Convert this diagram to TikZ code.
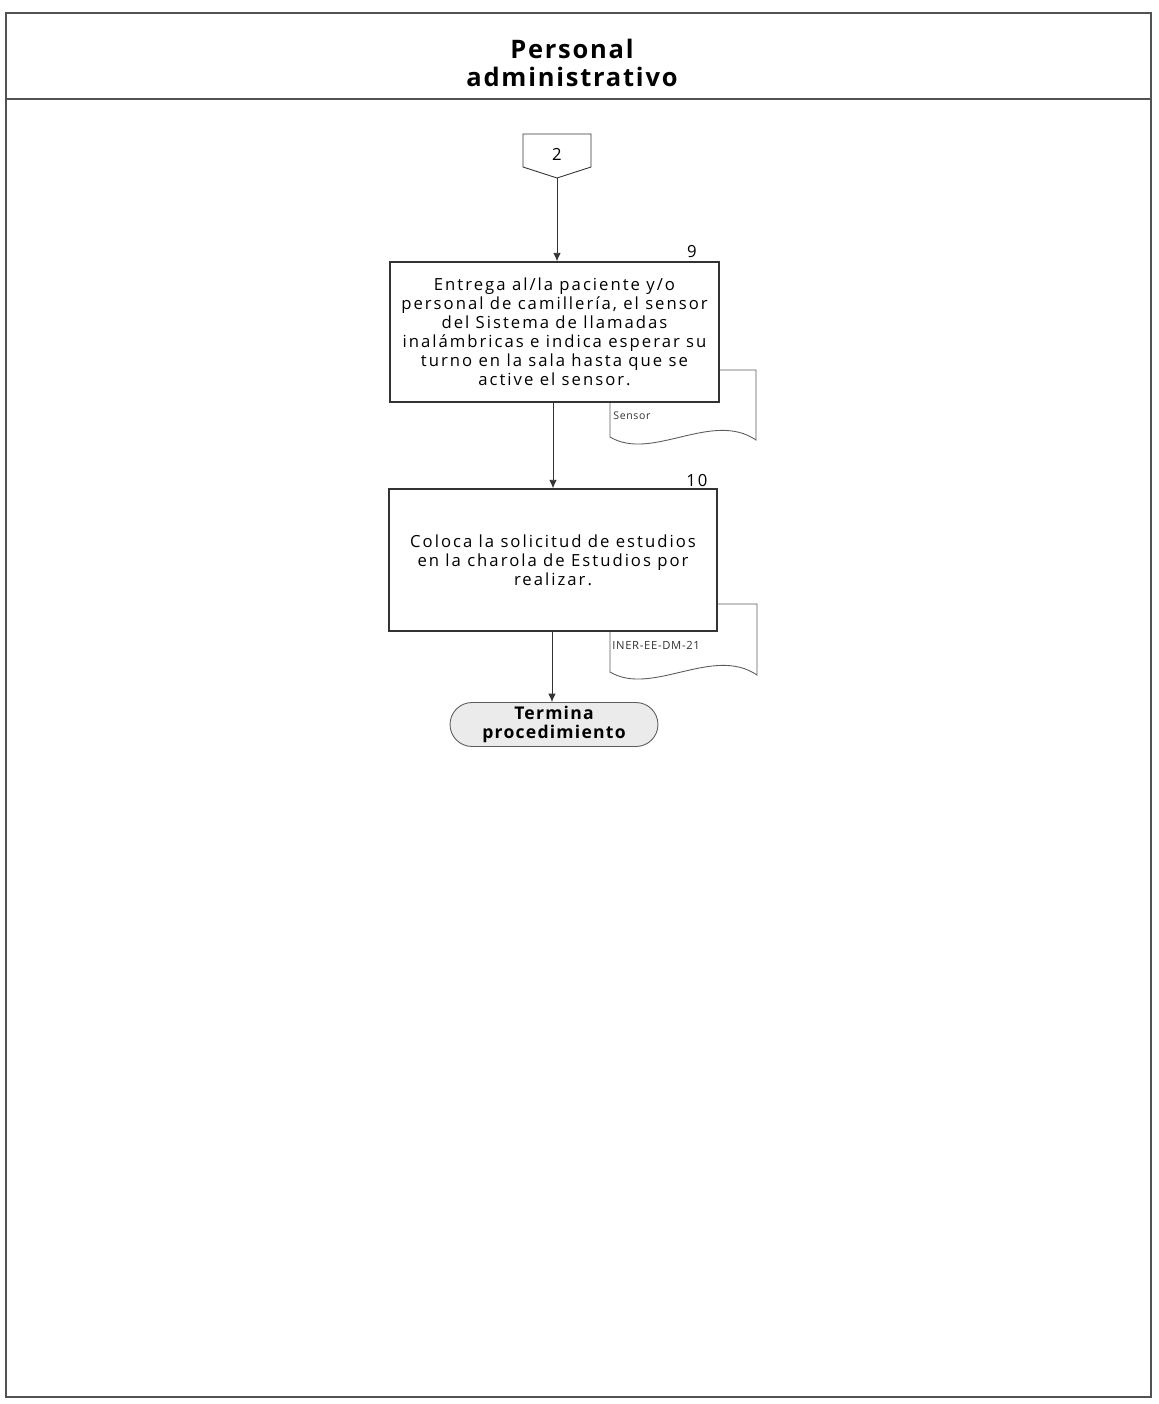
\documentclass[tikz,border=0pt]{standalone}
\usepackage{fontspec}
\usetikzlibrary{arrows.meta}
\newfontfamily\bodyf[LetterSpace=12]{Open Sans}
\newfontfamily\headf[LetterSpace=7]{Open Sans}
\newfontfamily\smallf[LetterSpace=6]{Open Sans}
\definecolor{linec}{HTML}{333333}
\definecolor{termfill}{HTML}{EBEBEB}
\tikzset{
  px/.style={x=0.02cm,y=-0.02cm},
  framel/.style={draw=linec!85,line width=0.6pt},
  procbox/.style={draw=linec,line width=0.8pt,fill=white,minimum width=6.58cm,minimum height=2.8cm,align=center,inner sep=0pt,font=\bodyf\fontsize{9.5}{10.8}\selectfont},
  docshape/.style={draw=linec!80,line width=0.5pt,fill=white},
  doctext/.style={anchor=west,inner sep=0pt,text=linec},
  numl/.style={inner sep=0pt,font=\bodyf\fontsize{9.5}{10.8}\selectfont},
  flow/.style={draw=linec,line width=0.5pt,-{Latex[length=1.7mm,width=1.5mm]}},
  termbox/.style={draw=linec!80,line width=0.5pt,fill=termfill,rounded corners=0.44cm,minimum width=4.16cm,minimum height=0.88cm,align=center,inner sep=0pt,font=\headf\bfseries\fontsize{10}{10.4}\selectfont},
}
\begin{document}
\begin{tikzpicture}[px]
\useasboundingbox (0,0) rectangle (1159,1404);
% frame
\draw[framel] (6,13) rectangle (1151,1397);
\draw[framel] (6,99) -- (1151,99);
\node[font=\headf\bfseries\fontsize{14.5}{15.5}\selectfont,align=center,inner sep=0pt] (hdr) at (572,63) {Personal\\administrativo};
% off-page connector
\draw[docshape,draw=linec] (523,134) -- (591,134) -- (591,167) -- (557,178) -- (523,167) -- cycle;
\node[numl] (c2) at (557,154) {2};
\coordinate (c2tip) at (557,178);
% documents
\draw[docshape] (610,437) -- (610,370) -- (756,370) -- (756,440) .. controls (712,410) and (652,462) .. (610,437) -- cycle;
\node[doctext,font=\smallf\fontsize{6}{7}\selectfont] (dsensor) at (613,416) {Sensor};
\draw[docshape] (610,672) -- (610,604) -- (757,604) -- (757,675) .. controls (713,645) and (652,697) .. (610,672) -- cycle;
\node[doctext,font=\smallf\fontsize{6.4}{7}\selectfont] (diner) at (612,645) {INER-EE-DM-21};
% process boxes
\node[procbox] (b9) at (554.5,332) {Entrega al/la paciente y/o\\personal de camillería, el sensor\\del Sistema de llamadas\\inalámbricas e indica esperar su\\turno en la sala hasta que se\\active el sensor.};
\node[numl] (n9) at (692,252) {9};
\node[procbox,minimum width=6.56cm,minimum height=2.84cm] (b10) at (553,560) {Coloca la solicitud de estudios\\en la charola de Estudios por\\realizar.};
\node[numl] (n10) at (697,481) {10};
% terminator
\node[termbox] (term) at (554,724.5) {Termina\\procedimiento};
% connectors
\draw[flow] (c2tip) -- (c2tip |- b9.north);
\draw[flow] (b9.south -| 553,0) -- (553,0 |- b10.north);
\draw[flow] (b10.south -| 552,0) -- (552,0 |- term.north);
\end{tikzpicture}
\end{document}
